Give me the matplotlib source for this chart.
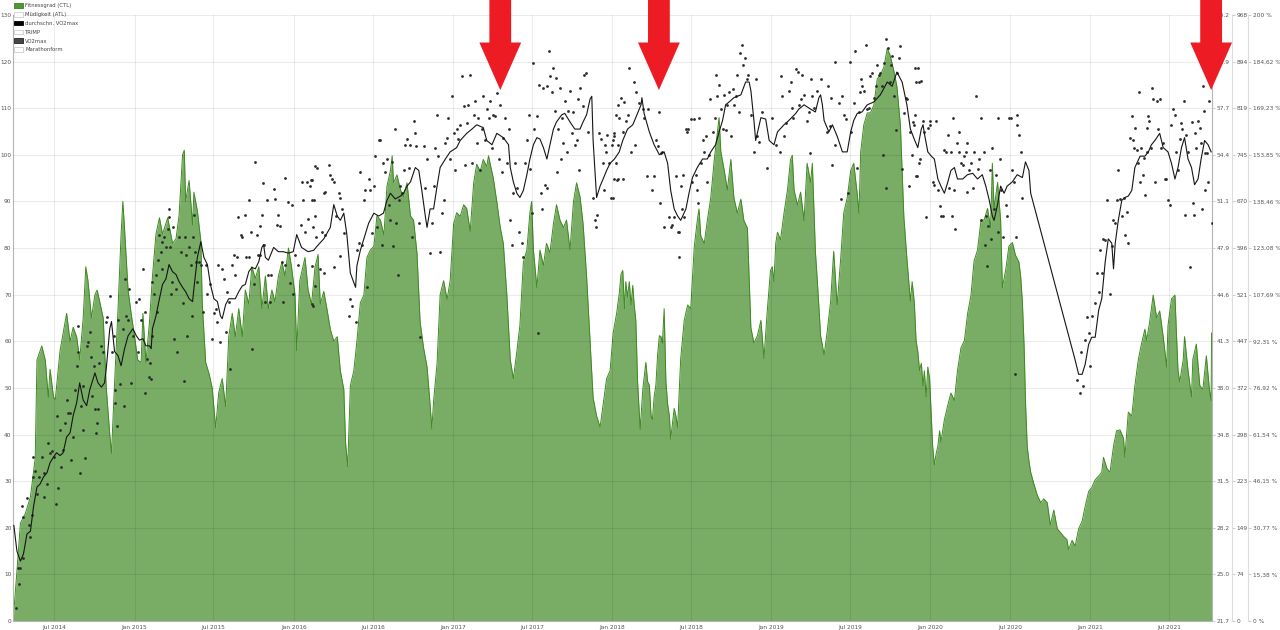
import numpy as np
import matplotlib
matplotlib.use("Agg")
import matplotlib.pyplot as plt
import matplotlib.dates as mdates
import matplotlib.patches as mpatches

# day 0 = 2014-03-28
start = np.datetime64("2014-03-28")

# Fitnessgrad (CTL), (day, value) on left axis
ctl = [
    (1, 1.0), (9, 10.7), (17, 21.0), (28, 23.0), (40, 26.6), (51, 35.0), (55, 56.0), (66, 59.0),
    (74, 56.0), (81, 48.0), (85, 54.0), (93, 48.0), (97, 47.5), (108, 58.0), (123, 66.0), (131, 60.0),
    (138, 63.0), (146, 61.0), (153, 56.0), (161, 65.0), (167, 76.0), (172, 73.0), (180, 65.0), (188, 70.0),
    (193, 71.0), (199, 68.5), (207, 65.0), (214, 50.0), (222, 40.0), (226, 36.0), (233, 51.0), (241, 67.0),
    (248, 83.0), (252, 90.0), (256, 84.0), (264, 71.0), (271, 66.0), (279, 61.0), (286, 56.0), (294, 55.5),
    (298, 66.0), (305, 55.5), (313, 64.0), (320, 74.0), (328, 83.0), (336, 86.5), (343, 83.0), (355, 86.5),
    (366, 81.0), (374, 82.0), (381, 87.0), (389, 100.0), (393, 101.0), (396, 90.0), (404, 94.5), (412, 85.0),
    (415, 92.0), (423, 88.0), (431, 81.5), (434, 68.5), (442, 55.5), (450, 53.0), (457, 50.0), (465, 41.4),
    (472, 49.0), (480, 52.0), (488, 46.0), (495, 61.0), (503, 66.0), (510, 61.0), (518, 67.0), (526, 61.0),
    (533, 71.0), (541, 68.0), (548, 76.0), (556, 73.5), (564, 76.0), (571, 67.0), (579, 74.0), (586, 67.0),
    (594, 71.0), (601, 68.5), (609, 74.0), (617, 77.0), (624, 74.0), (632, 80.0), (639, 76.0), (647, 70.0),
    (651, 58.0), (658, 73.0), (670, 78.0), (677, 71.0), (685, 68.0), (693, 76.0), (700, 78.6),
    (705, 68.0), (713, 70.7), (721, 66.6), (728, 62.6), (736, 60.0), (744, 61.0), (751, 53.7), (759, 49.7),
    (763, 38.3), (768, 33.1), (774, 50.5), (782, 53.7), (789, 60.0), (797, 68.3), (805, 69.9), (812, 78.0),
    (820, 79.6), (828, 80.4), (835, 86.9), (843, 86.0), (851, 82.8), (858, 93.3), (866, 96.6), (870, 99.8),
    (873, 94.0), (881, 95.7), (889, 92.5), (896, 91.0), (904, 94.0), (912, 86.9), (919, 86.0), (927, 78.8),
    (934, 64.2), (942, 58.6), (950, 54.5), (957, 46.4), (961, 41.2), (965, 47.2), (973, 55.3), (980, 70.0),
    (988, 73.0), (996, 69.0), (1003, 73.0), (1011, 85.2), (1018, 87.6), (1026, 86.8), (1034, 89.3), (1041, 88.5),
    (1049, 83.6), (1057, 94.0), (1064, 98.0), (1072, 96.5), (1079, 99.0), (1087, 97.5), (1091, 99.8), (1095, 98.0),
    (1102, 95.0), (1110, 90.0), (1118, 84.4), (1125, 81.0), (1133, 70.0), (1141, 56.0), (1148, 52.0), (1156, 57.8),
    (1163, 63.4), (1171, 77.0), (1179, 79.6), (1186, 87.6), (1190, 90.0), (1194, 79.6), (1202, 71.5), (1209, 79.6),
    (1217, 76.3), (1224, 81.0), (1232, 79.0), (1240, 85.2), (1247, 89.3), (1255, 86.0), (1263, 84.4), (1270, 86.0),
    (1278, 79.6), (1286, 90.0), (1293, 94.0), (1301, 91.0), (1308, 85.2), (1316, 74.0), (1324, 60.0), (1331, 47.9),
    (1339, 44.0), (1347, 41.6), (1354, 46.4), (1362, 52.0), (1370, 53.7),
    (1377, 61.8), (1385, 66.0), (1391, 70.3), (1395, 74.4), (1399, 75.2), (1403, 67.0), (1406, 72.8), (1410, 69.5),
    (1414, 72.8), (1418, 67.8), (1422, 72.0), (1425, 68.0), (1429, 64.5), (1433, 51.4), (1439, 41.1), (1445, 49.7),
    (1448, 52.2), (1452, 55.5), (1456, 51.4), (1460, 50.6), (1464, 44.0), (1467, 43.2), (1471, 48.1), (1475, 50.6),
    (1479, 57.1), (1483, 61.2), (1487, 61.0), (1490, 59.6), (1494, 67.0), (1498, 51.4), (1502, 46.5), (1506, 44.0),
    (1509, 39.0), (1513, 42.4), (1517, 45.6), (1521, 44.0), (1525, 41.5), (1528, 48.1), (1532, 56.3), (1540, 64.5),
    (1548, 67.8), (1555, 67.0), (1559, 73.6), (1563, 80.2), (1567, 83.4), (1570, 85.9), (1574, 88.4), (1578, 82.6),
    (1586, 81.0), (1593, 85.9), (1601, 90.8), (1609, 99.0), (1616, 104.8), (1620, 108.0), (1624, 100.7), (1632, 96.6),
    (1639, 92.5), (1647, 99.0), (1654, 90.8), (1662, 87.5), (1670, 90.5), (1677, 85.9), (1685, 84.3), (1693, 62.9),
    (1700, 59.6), (1708, 61.2), (1716, 64.5), (1723, 56.3), (1731, 67.0), (1738, 75.2), (1742, 76.0), (1746, 72.8),
    (1750, 81.0), (1754, 83.4), (1761, 81.8), (1769, 87.5), (1777, 92.5), (1784, 99.0), (1788, 99.9), (1792, 92.5),
    (1800, 89.2), (1807, 92.0), (1815, 85.9), (1822, 98.2), (1830, 94.1), (1834, 98.2), (1838, 87.5), (1841, 79.3),
    (1845, 73.6), (1853, 61.2), (1861, 57.1), (1868, 62.0), (1876, 68.6), (1883, 79.3), (1891, 67.8), (1899, 77.7),
    (1906, 87.5), (1914, 90.8), (1922, 96.6), (1929, 98.2), (1937, 91.6), (1941, 87.5), (1945, 100.7), (1952, 106.4),
    (1960, 109.0), (1967, 109.0), (1975, 110.6), (1983, 116.3), (1990, 117.1), (1998, 118.8), (2006, 122.9), (2013, 121.2),
    (2021, 118.0), (2028, 114.7), (2036, 106.4), (2044, 86.7), (2051, 77.7), (2059, 68.6), (2063, 72.8),
    (2068, 68.3), (2072, 60.2), (2076, 57.8), (2080, 53.7), (2084, 55.3), (2088, 50.5), (2091, 53.7), (2095, 48.1),
    (2099, 54.5), (2103, 52.0), (2107, 44.0), (2110, 37.5), (2114, 33.5), (2118, 35.9), (2122, 37.5), (2126, 40.8),
    (2129, 38.4), (2137, 43.2), (2145, 46.4), (2152, 48.9), (2160, 47.3), (2167, 53.7), (2175, 58.6), (2183, 60.2),
    (2190, 65.8), (2198, 69.9), (2205, 77.2), (2213, 79.6), (2221, 86.0), (2228, 86.0), (2236, 88.5), (2243, 84.4),
    (2247, 98.2), (2251, 88.5), (2259, 94.1), (2266, 86.0), (2270, 71.5), (2278, 75.5), (2285, 80.4), (2293, 81.2),
    (2300, 78.5), (2308, 77.0), (2312, 73.9), (2316, 68.3), (2320, 58.6), (2323, 47.2), (2327, 37.5), (2331, 34.3),
    (2335, 31.9), (2342, 29.5), (2350, 27.0), (2358, 25.4), (2365, 26.2), (2373, 25.4), (2380, 20.6), (2388, 23.8),
    (2396, 19.8), (2403, 19.0), (2411, 18.1), (2418, 17.5), (2422, 15.3), (2430, 17.3), (2437, 16.1), (2445, 19.8),
    (2453, 21.4), (2460, 24.6), (2468, 27.8), (2475, 28.6), (2483, 30.3), (2491, 31.1), (2498, 31.9), (2502, 35.1),
    (2510, 32.7), (2517, 31.9), (2525, 37.5), (2532, 40.8), (2540, 41.0), (2548, 39.2), (2551, 35.1), (2559, 44.8),
    (2567, 44.0), (2574, 50.5), (2582, 56.1), (2589, 59.4), (2597, 62.6), (2601, 60.2), (2608, 64.2), (2616, 69.9),
    (2624, 65.0), (2631, 66.5), (2639, 61.0), (2647, 54.5), (2650, 63.4), (2658, 69.1), (2666, 69.9), (2669, 62.6),
    (2673, 53.7), (2677, 51.3), (2685, 56.1), (2688, 61.0), (2696, 53.7), (2704, 48.1), (2707, 56.1), (2715, 59.4),
    (2723, 50.5), (2730, 49.7), (2738, 56.9), (2745, 49.7), (2749, 47.3), (2750, 61.8),
]

# durchschn. VO2max, (day, VO2max)
vo2_avg = [
    (2, 28.4), (9, 26.6), (17, 25.9), (24, 26.4), (32, 27.8), (40, 28.0), (47, 29.7), (55, 31.1),
    (62, 31.3), (70, 31.8), (78, 32.1), (85, 32.8), (93, 33.2), (100, 33.5), (108, 33.3), (115, 33.5),
    (123, 34.6), (131, 34.9), (138, 36.1), (146, 37.0), (153, 38.4), (161, 37.2), (169, 36.8), (176, 37.9),
    (184, 38.7), (188, 39.1), (195, 38.4), (203, 38.1), (210, 38.4), (214, 39.4), (222, 42.2), (226, 42.7),
    (233, 40.6), (241, 40.3), (248, 39.6), (256, 40.8), (264, 41.7), (275, 42.2), (283, 41.7), (290, 41.4),
    (298, 41.5), (305, 41.0), (313, 41.0), (317, 40.8), (320, 42.2), (328, 43.1), (336, 44.3), (343, 45.3),
    (351, 45.7), (358, 46.7), (366, 46.2), (374, 46.0), (381, 45.5), (389, 45.1), (396, 44.8), (404, 44.3),
    (412, 44.1), (415, 45.0), (423, 47.2), (431, 48.3), (438, 47.2), (446, 46.7), (453, 45.3), (461, 44.3),
    (469, 44.1), (476, 43.1), (480, 42.9), (488, 43.9), (495, 44.3), (503, 44.3), (510, 44.3), (518, 44.8),
    (526, 45.2), (533, 45.3), (541, 46.2), (548, 46.5), (556, 46.4), (564, 46.9), (571, 47.9), (575, 48.1),
    (579, 47.2), (586, 47.0), (598, 47.9), (609, 47.6), (620, 47.6), (632, 47.5), (643, 47.6), (651, 48.8),
    (662, 47.9), (677, 47.6), (690, 47.7), (698, 48.0),
    (713, 48.5), (728, 49.3), (736, 50.9), (744, 50.1), (751, 49.8), (759, 50.3), (766, 48.8), (774, 46.1),
    (786, 45.1), (789, 46.6), (797, 47.7), (805, 48.5), (816, 49.6), (828, 50.3), (839, 50.1), (850, 50.3),
    (858, 51.2), (866, 51.7), (877, 51.3), (889, 51.5), (896, 51.7), (904, 52.2), (912, 52.5), (923, 53.5),
    (931, 53.3), (938, 51.9), (946, 50.1), (950, 49.3), (957, 50.6), (965, 50.6), (973, 52.2), (980, 53.5),
    (992, 54.1), (1003, 54.6), (1018, 54.9), (1026, 55.4), (1041, 55.9), (1053, 56.2), (1064, 56.5), (1079, 56.3),
    (1087, 55.4), (1099, 55.1), (1110, 55.9), (1125, 55.6), (1137, 55.1), (1141, 53.5), (1148, 52.5), (1156, 51.7),
    (1163, 51.4), (1171, 51.9), (1179, 53.0), (1186, 54.1), (1194, 55.1), (1202, 55.6), (1209, 55.5), (1217, 54.9),
    (1225, 54.1), (1232, 55.1), (1240, 56.2), (1247, 56.7), (1259, 57.2), (1266, 57.3), (1278, 56.7), (1289, 56.2),
    (1301, 56.2), (1308, 56.7), (1316, 57.2), (1324, 58.3), (1328, 58.5), (1331, 55.4), (1339, 51.4), (1347, 52.2),
    (1354, 52.7), (1362, 53.3), (1370, 53.8),
    (1380, 54.1), (1391, 54.6), (1399, 55.4), (1410, 56.2), (1422, 56.5), (1433, 57.3), (1441, 57.9), (1443, 58.4),
    (1448, 57.3), (1460, 56.0), (1471, 55.1), (1483, 54.4), (1494, 54.6), (1502, 53.8), (1509, 51.9), (1517, 50.6),
    (1525, 50.1), (1532, 49.8), (1544, 50.6), (1551, 51.7), (1559, 52.8), (1570, 53.5), (1582, 54.1), (1593, 54.1),
    (1601, 54.6), (1612, 55.1), (1620, 56.0), (1628, 56.8), (1635, 57.9), (1643, 58.1), (1654, 58.4), (1670, 58.6),
    (1681, 59.5), (1689, 59.5), (1693, 58.9), (1700, 56.8), (1704, 55.4), (1716, 57.0), (1727, 56.9), (1735, 55.4),
    (1746, 55.1), (1754, 56.0), (1769, 56.5), (1780, 56.8), (1796, 57.3), (1803, 57.6), (1815, 57.9), (1830, 57.6),
    (1841, 57.4), (1849, 58.4), (1853, 58.6), (1857, 57.9), (1861, 56.8), (1872, 56.0), (1880, 56.5), (1891, 55.7),
    (1903, 54.6), (1914, 54.6), (1922, 56.0), (1929, 56.8), (1937, 57.3), (1948, 57.4), (1960, 57.9), (1975, 58.1),
    (1990, 58.6), (2006, 59.5), (2017, 59.2), (2028, 60.2), (2040, 59.5), (2051, 57.9), (2059, 56.2),
    (2069, 55.4), (2076, 54.9), (2084, 56.2), (2088, 56.5), (2091, 55.9), (2099, 54.6), (2107, 54.3), (2114, 54.1),
    (2122, 52.7), (2129, 52.2), (2137, 51.7), (2145, 52.5), (2152, 53.3), (2160, 53.5), (2167, 52.7), (2179, 52.7),
    (2190, 53.0), (2202, 53.1), (2213, 52.7), (2224, 53.0), (2232, 52.2), (2240, 51.2), (2247, 50.1), (2251, 49.8),
    (2259, 50.9), (2266, 52.2), (2274, 51.7), (2281, 52.2), (2293, 52.5), (2304, 53.0), (2316, 52.8), (2323, 53.9),
    (2331, 53.3), (2335, 51.7), (2431, 40.7), (2437, 40.0), (2445, 39.0), (2453, 39.0), (2460, 39.7), (2468, 41.1),
    (2475, 41.6), (2483, 41.6), (2491, 43.5), (2498, 44.3), (2506, 46.9), (2513, 48.5), (2521, 48.2), (2525, 46.4),
    (2529, 48.2), (2536, 49.8), (2544, 51.2), (2551, 51.4), (2559, 51.5), (2567, 51.9), (2574, 53.5), (2586, 54.3),
    (2597, 54.3), (2605, 54.6), (2612, 55.1), (2620, 55.4), (2631, 55.9), (2639, 54.9), (2650, 54.6), (2658, 53.8),
    (2666, 52.7), (2673, 53.5), (2681, 54.9), (2688, 55.6), (2696, 54.1), (2704, 53.5), (2711, 52.3), (2719, 52.7),
    (2726, 54.1), (2734, 55.4), (2742, 55.1), (2749, 54.6),
]

# VO2max single measurements, (day, VO2max)
vo2_daily = [
    (8, 22.6), (14, 24.3), (11, 25.4), (15, 25.4), (24, 26.1), (23, 29.0), (32, 30.3), (21, 29.8),
    (36, 28.4), (40, 27.6), (43, 29.1), (47, 31.8), (51, 32.2), (46, 33.2), (55, 30.6), (59, 31.8),
    (66, 33.2), (70, 32.1), (71, 30.4), (78, 31.3), (81, 34.2), (85, 33.5), (89, 33.6), (93, 33.2),
    (99, 29.9), (100, 36.1), (104, 31.0), (108, 35.1), (109, 32.5), (115, 33.7), (119, 35.6), (123, 37.2),
    (127, 36.3), (131, 36.3), (133, 33.0), (138, 34.6), (142, 37.9), (146, 39.6), (148, 42.4), (150, 40.6),
    (153, 32.1), (156, 36.8), (160, 35.1), (165, 33.1), (161, 38.2), (169, 41.0), (172, 41.3), (176, 42.0),
    (179, 40.2), (182, 37.5), (185, 39.6), (189, 36.6), (191, 34.9), (193, 35.6), (195, 36.6), (198, 39.8),
    (201, 41.0), (207, 40.6), (214, 42.7), (216, 43.0), (222, 44.5), (226, 40.6), (231, 41.7), (233, 37.9),
    (235, 37.0), (239, 35.4), (242, 42.8), (245, 38.3), (252, 42.2), (254, 36.8), (256, 45.7), (260, 43.1),
    (264, 42.8), (267, 45.0), (271, 38.4), (275, 41.7), (283, 44.1), (286, 40.6), (290, 44.3), (294, 42.8),
    (298, 46.4), (302, 43.4), (304, 37.7), (307, 40.1), (311, 38.8), (314, 39.8), (317, 38.7), (319, 41.7),
    (320, 45.5), (324, 44.6), (328, 46.0), (330, 43.4), (332, 47.0), (336, 48.8), (339, 47.6), (342, 46.4),
    (343, 48.3), (347, 48.6), (351, 47.9), (355, 49.2), (357, 50.0), (358, 50.6), (361, 47.9), (362, 44.6),
    (365, 45.5), (366, 49.3), (370, 41.5), (374, 45.0), (377, 40.6), (381, 48.6), (385, 47.6), (389, 44.0),
    (393, 38.5), (394, 48.6), (396, 47.4), (400, 41.7), (404, 47.9), (408, 46.7), (410, 43.1), (412, 48.6),
    (415, 50.2), (418, 47.6), (419, 46.9), (423, 45.5), (427, 46.9), (431, 46.7), (437, 43.4), (442, 46.7),
    (446, 44.6), (453, 45.3), (457, 41.5), (461, 43.3), (465, 43.6), (469, 42.7), (471, 46.7), (474, 41.3),
    (480, 46.4), (484, 45.7), (488, 42.0), (491, 44.8), (495, 44.1), (499, 39.4), (503, 46.7), (507, 47.4),
    (510, 46.0), (514, 47.2), (516, 50.0), (522, 48.8), (526, 48.6), (533, 50.2), (535, 47.2), (541, 47.2),
    (542, 51.2), (545, 49.0), (548, 40.8), (552, 45.3), (556, 53.9), (560, 48.8), (562, 47.4), (566, 49.4),
    (567, 47.4), (571, 50.2), (573, 52.4), (575, 48.1), (579, 44.1), (582, 51.2), (586, 46.0), (590, 44.1),
    (592, 46.0), (598, 52.0), (601, 51.3), (605, 49.5), (609, 50.2), (613, 49.4), (617, 46.9), (620, 44.1),
    (623, 52.8), (624, 46.7), (632, 51.1), (636, 45.4), (639, 50.9), (643, 44.6), (647, 47.4), (655, 46.7),
    (661, 49.5), (662, 52.5), (666, 51.2), (670, 49.0), (674, 52.5), (677, 49.9), (681, 52.2), (683, 52.6),
    (685, 43.9), (686, 51.2), (689, 49.3), (693, 53.6), (696, 48.6),
    (686, 52.6), (690, 51.2), (694, 50.1), (698, 53.5), (713, 51.7), (717, 51.8), (725, 53.7), (728, 53.0),
    (732, 52.7), (736, 52.5), (740, 50.1), (747, 51.7), (751, 51.4), (755, 50.6), (759, 48.9), (709, 49.0),
    (717, 48.8), (705, 46.4), (713, 46.1), (736, 46.5), (751, 47.3), (689, 43.8), (694, 45.2), (686, 46.6),
    (770, 43.1), (774, 44.3), (778, 43.8), (786, 42.7), (789, 47.7), (793, 48.2), (797, 53.2), (801, 48.1),
    (805, 51.2), (808, 51.9), (812, 45.1), (816, 52.7), (820, 51.9), (824, 48.9), (828, 52.2), (831, 54.3),
    (835, 49.3), (839, 55.4), (843, 55.4), (847, 48.1), (850, 53.8), (854, 53.2), (858, 54.1), (862, 50.9),
    (866, 49.8), (870, 53.9), (873, 48.0), (877, 56.2), (879, 49.6), (883, 46.0), (885, 51.2), (889, 52.2),
    (892, 51.7), (896, 53.3), (900, 55.1), (904, 55.5), (908, 53.5), (912, 55.1), (915, 48.6), (919, 56.8),
    (923, 55.9), (925, 55.0), (931, 49.6), (934, 41.6), (942, 55.0), (946, 52.1), (950, 54.1), (957, 47.5),
    (961, 49.6), (965, 52.2), (969, 54.9), (973, 57.2), (976, 54.3), (980, 47.6), (984, 50.3), (988, 51.2),
    (992, 55.2), (995, 55.6), (999, 57.0), (1003, 54.1), (1007, 58.5), (1011, 55.9), (1015, 53.3), (1018, 56.2),
    (1022, 55.5), (1026, 56.5), (1030, 59.9), (1034, 57.8), (1037, 53.7), (1041, 56.6), (1045, 57.9), (1049, 60.0),
    (1053, 53.8), (1057, 57.2), (1060, 58.2), (1064, 55.2), (1068, 57.0), (1072, 53.3), (1076, 56.2), (1079, 58.5),
    (1083, 55.4), (1087, 57.6), (1091, 57.0), (1095, 58.2), (1099, 54.9), (1102, 57.2), (1106, 57.1), (1110, 58.7),
    (1114, 54.1), (1118, 57.9), (1121, 53.2), (1125, 55.6), (1129, 57.0), (1133, 53.8), (1139, 56.2), (1141, 49.8),
    (1144, 48.1), (1148, 51.7), (1152, 53.8), (1156, 52.1), (1160, 49.0), (1167, 48.2), (1171, 47.2), (1175, 53.8),
    (1179, 55.4), (1183, 57.2), (1186, 53.4), (1190, 50.3), (1192, 60.8), (1195, 56.2), (1202, 57.1), (1205, 41.9),
    (1208, 59.3), (1211, 51.7), (1214, 50.6), (1217, 59.1), (1221, 52.3), (1225, 52.1), (1226, 59.2), (1229, 61.7),
    (1232, 59.9), (1236, 58.8), (1240, 60.5), (1244, 57.5), (1247, 59.8), (1249, 53.2), (1251, 56.2), (1254, 59.1),
    (1257, 54.1), (1260, 57.0), (1263, 55.2), (1267, 58.2), (1270, 54.6), (1274, 57.5), (1278, 58.9), (1282, 55.9),
    (1286, 57.4), (1290, 55.1), (1293, 55.4), (1297, 58.3), (1299, 53.3), (1302, 59.1), (1307, 57.8), (1310, 60.0),
    (1315, 60.1), (1320, 56.0), (1331, 51.4), (1335, 49.8), (1337, 49.3), (1341, 50.2), (1344, 55.9), (1348, 55.5),
    (1353, 53.8), (1356, 51.9), (1358, 55.1), (1360, 54.6), (1363, 55.8), (1368, 53.8), (1371, 51.4), (1374, 55.1),
    (1379, 55.9), (1383, 57.2), (1386, 52.6), (1389, 57.9),
    (1376, 55.4), (1380, 55.7), (1383, 53.8), (1387, 55.1), (1391, 57.0), (1395, 58.4), (1399, 56.0), (1403, 58.1),
    (1406, 56.8), (1410, 57.2), (1414, 60.5), (1418, 54.6), (1378, 52.7), (1387, 52.7), (1399, 52.7), (1376, 51.4),
    (1425, 59.5), (1429, 58.8), (1427, 55.1), (1437, 58.0), (1445, 57.6), (1448, 57.0), (1454, 52.9), (1456, 57.6),
    (1467, 51.9), (1471, 52.9), (1475, 55.4), (1479, 55.0), (1483, 57.4), (1485, 51.0), (1487, 54.5), (1490, 54.6),
    (1494, 49.3), (1506, 50.0), (1509, 49.3), (1513, 49.5), (1517, 50.0), (1521, 52.9), (1525, 49.0), (1528, 49.0),
    (1528, 47.2), (1532, 52.2), (1534, 50.6), (1537, 53.0), (1540, 50.0), (1543, 56.2), (1546, 56.0), (1549, 56.2),
    (1555, 56.9), (1559, 52.5), (1563, 56.9), (1567, 53.0), (1570, 51.9), (1572, 51.0), (1574, 57.0), (1578, 53.8),
    (1582, 55.4), (1586, 54.6), (1590, 55.7), (1593, 52.5), (1597, 54.4), (1599, 58.3), (1605, 56.0), (1610, 57.0),
    (1614, 60.0), (1616, 58.5), (1620, 59.3), (1624, 57.6), (1628, 56.2), (1632, 58.6), (1635, 56.1), (1639, 57.9),
    (1643, 58.8), (1647, 55.7), (1651, 59.0), (1654, 57.9), (1658, 58.5), (1661, 60.0), (1666, 57.4), (1669, 61.5),
    (1672, 62.1), (1676, 60.7), (1680, 61.2), (1683, 59.7), (1687, 60.0), (1693, 57.2), (1700, 54.6), (1704, 59.7),
    (1708, 55.7), (1712, 55.3), (1719, 57.4), (1731, 53.5), (1741, 57.0), (1750, 55.1), (1760, 54.6), (1763, 59.9),
    (1765, 58.5), (1769, 55.7), (1773, 56.6), (1780, 58.9), (1784, 59.5), (1787, 57.7), (1790, 57.0), (1796, 60.4),
    (1800, 60.2), (1803, 57.9), (1807, 58.3), (1811, 60.0), (1815, 58.6), (1822, 56.8), (1826, 57.4), (1829, 54.5),
    (1830, 59.7), (1834, 58.5), (1838, 57.7), (1845, 58.9), (1853, 59.7), (1867, 56.0), (1871, 59.2), (1874, 56.4),
    (1877, 58.4), (1880, 53.7), (1885, 55.1), (1887, 60.9), (1895, 58.0), (1899, 51.3), (1901, 58.5), (1906, 57.2),
    (1912, 56.9), (1916, 51.7), (1920, 60.9), (1923, 56.0), (1929, 58.0), (1931, 61.7), (1937, 53.5), (1941, 57.4),
    (1943, 58.8), (1945, 59.7), (1948, 59.2), (1952, 58.9), (1956, 62.1), (1960, 57.6), (1964, 57.7), (1967, 59.9),
    (1971, 60.1), (1975, 58.4), (1979, 59.2), (1983, 60.7), (1987, 60.0), (1990, 60.1), (1994, 59.2), (1996, 54.4),
    (1998, 60.8), (2002, 62.5), (2004, 52.1), (2007, 61.9), (2012, 59.5), (2015, 60.7), (2017, 61.3), (2021, 58.5),
    (2025, 56.1), (2029, 60.1), (2032, 61.2), (2036, 62.0), (2040, 53.4), (2044, 57.3), (2048, 58.4), (2051, 58.3),
    (2055, 52.2), (2059, 56.0), (2063, 54.4), (2067, 56.5), (2070, 60.5), (2073, 59.5), (2074, 52.9), (2078, 53.8),
    (2080, 54.1),
    (2065, 56.7), (2069, 57.2), (2072, 52.9), (2076, 60.5), (2078, 59.5), (2084, 59.6), (2088, 56.8), (2091, 56.0),
    (2095, 50.0), (2099, 56.3), (2103, 56.8), (2105, 56.5), (2110, 52.5), (2114, 52.3), (2118, 56.8), (2122, 51.9),
    (2126, 50.8), (2129, 50.1), (2133, 50.1), (2137, 54.7), (2141, 54.6), (2145, 55.8), (2148, 52.1), (2152, 54.6),
    (2154, 50.1), (2156, 57.0), (2160, 51.9), (2162, 49.2), (2167, 55.2), (2170, 56.0), (2171, 54.6), (2175, 53.8),
    (2179, 53.7), (2183, 54.3), (2186, 54.6), (2189, 55.2), (2190, 51.8), (2194, 53.3), (2198, 53.8), (2202, 52.1),
    (2205, 54.6), (2209, 58.5), (2213, 53.4), (2217, 54.1), (2221, 57.0), (2222, 49.8), (2227, 54.6), (2230, 48.1),
    (2232, 50.1), (2234, 46.6), (2237, 49.4), (2242, 53.3), (2243, 48.5), (2247, 54.9), (2251, 50.6), (2255, 53.0),
    (2259, 49.0), (2260, 57.0), (2265, 54.1), (2268, 51.9), (2272, 48.6), (2278, 50.9), (2281, 50.1), (2285, 57.0),
    (2289, 57.0), (2293, 53.3), (2297, 52.5), (2299, 39.0), (2301, 48.6), (2303, 56.5), (2304, 57.2), (2308, 55.8),
    (2312, 54.6), (2315, 51.4),
    (2441, 38.6), (2447, 37.7), (2450, 40.6), (2455, 38.2), (2460, 41.4), (2464, 43.0), (2468, 41.9), (2472, 39.6),
    (2475, 43.1), (2483, 44.0), (2487, 46.1), (2491, 44.8), (2494, 47.7), (2498, 46.1), (2502, 48.5), (2506, 48.4),
    (2510, 51.2), (2517, 44.6), (2521, 48.0), (2525, 49.8), (2529, 49.6), (2532, 51.2), (2536, 53.3), (2539, 51.3),
    (2544, 50.1), (2548, 51.4), (2551, 48.8), (2555, 50.4), (2559, 48.2), (2563, 55.6), (2567, 57.1), (2569, 55.4),
    (2572, 54.9), (2574, 56.3), (2578, 54.7), (2582, 53.8), (2584, 58.8), (2586, 52.5), (2588, 54.9), (2592, 53.0),
    (2595, 54.2), (2598, 51.6), (2601, 56.3), (2602, 54.6), (2605, 57.1), (2607, 56.8), (2610, 54.9), (2613, 59.1),
    (2616, 58.3), (2620, 52.5), (2624, 58.2), (2627, 56.2), (2631, 58.3), (2635, 54.9), (2639, 55.2), (2643, 52.7),
    (2646, 52.7), (2650, 51.2), (2654, 50.9), (2658, 56.5), (2662, 57.6), (2666, 57.2), (2669, 54.6), (2673, 53.3),
    (2677, 55.5), (2681, 56.6), (2683, 56.2), (2686, 58.2), (2689, 50.2), (2692, 55.8), (2696, 54.6), (2700, 46.5),
    (2704, 56.7), (2707, 51.0), (2710, 50.2), (2713, 55.9), (2715, 54.9), (2719, 56.8), (2723, 56.3), (2726, 55.2),
    (2729, 50.6), (2730, 59.2), (2732, 57.5), (2734, 51.9), (2736, 54.5), (2739, 54.5), (2742, 52.5), (2745, 58.2),
    (2749, 60.1), (2751, 49.6),
]

# red marker arrows (days), tip value on left axis
arrow_days = [1118, 1482, 2749]
arrow_tip = 113.9

legend_labels = ["Fitnessgrad (CTL)", "Müdigkeit (ATL)", "durchschn. VO2max",
                 "TRIMP", "VO2max", "Marathonform"]

n_days = 2751


def split(points):
    d = np.array([p[0] for p in points], dtype="int64")
    v = np.array([p[1] for p in points])
    return start + d.astype("timedelta64[D]"), v


ctl_x, ctl_y = split(ctl)
avg_x, avg_y = split(vo2_avg)
dly_x, dly_y = split(vo2_daily)

W, H = 1280, 630
fig = plt.figure(figsize=(W / 100, H / 100), dpi=100)
L, R, B, T = 13, 1212, 621, 15
ax = fig.add_axes([L / W, (H - B) / H, (R - L) / W, (B - T) / H])

ax.fill_between(ctl_x, 0, ctl_y, color="#79ad66", lw=0, zorder=1)
ax.plot(ctl_x, ctl_y, color="#3f8a22", lw=0.7, zorder=1.5)

ax.set_ylim(0, 130)
ax.set_yticks(np.arange(0, 131, 10))
ax.set_xlim(start, start + np.timedelta64(n_days, "D"))
ax.xaxis.set_major_locator(mdates.MonthLocator(bymonth=[1, 7]))
ax.xaxis.set_major_formatter(mdates.DateFormatter("%b %Y"))
ax.grid(True, color="black", alpha=0.08, lw=0.8)
ax.set_axisbelow(False)
ax.tick_params(axis="both", labelsize=4.2, colors="#555555", length=0)
ax.tick_params(axis="x", pad=3)
ax.tick_params(axis="y", pad=1)
ax.spines["top"].set_visible(False)
for s in ["left", "right", "bottom"]:
    ax.spines[s].set_color("#b5b5b5")
    ax.spines[s].set_linewidth(0.8)

frac1 = (1232 - L) / (R - L)
frac2 = (1248 - L) / (R - L)
tick_kw = dict(labelsize=4.2, labelcolor="#555555", color="#cccccc", length=2.5, pad=1)

# VO2max axis (on the plot's right edge)
ax_v = ax.twinx()
ax_v.set_ylim(21.7, 64.2)
ax_v.set_yticks(np.linspace(21.7, 64.2, 14))
ax_v.yaxis.set_major_formatter(plt.FuncFormatter(lambda v, p: f"{v:.1f}"))
for s in ["top", "bottom", "left", "right"]:
    ax_v.spines[s].set_visible(False)
ax_v.tick_params(axis="y", **tick_kw)

ax_v.scatter(dly_x, dly_y, s=4, color="#2b2b2b", lw=0, zorder=3)
ax_v.plot(avg_x, avg_y, color="#151515", lw=0.8, zorder=4)

# TRIMP axis
ax_t = ax.twinx()
ax_t.set_ylim(0, 968)
ax_t.set_yticks(np.linspace(0, 968, 14))
ax_t.yaxis.set_major_formatter(plt.FuncFormatter(lambda v, p: f"{v:.0f}"))
for s in ["top", "bottom", "left"]:
    ax_t.spines[s].set_visible(False)
ax_t.spines["right"].set_position(("axes", frac1))
ax_t.spines["right"].set_color("#dddddd")
ax_t.tick_params(axis="y", **tick_kw)


# Marathonform axis (percent)
def pct(v, p):
    if abs(v - round(v)) < 1e-6:
        return f"{v:.0f} %"
    return f"{v:.2f} %".replace(".", ",")


ax_p = ax.twinx()
ax_p.set_ylim(0, 200)
ax_p.set_yticks(np.linspace(0, 200, 14))
ax_p.yaxis.set_major_formatter(plt.FuncFormatter(pct))
for s in ["top", "bottom", "left"]:
    ax_p.spines[s].set_visible(False)
ax_p.spines["right"].set_position(("axes", frac2))
ax_p.spines["right"].set_color("#dddddd")
ax_p.tick_params(axis="y", **tick_kw)

# red arrows
for d in arrow_days:
    xd = mdates.date2num(start + np.timedelta64(d, "D"))
    arr = mpatches.FancyArrow(xd, 134, 0, arrow_tip - 134, width=50, head_width=96,
                              head_length=10.2, length_includes_head=True,
                              color="#ed1c24", lw=0, transform=ax.transData,
                              clip_on=False, zorder=10)
    ax_p.add_artist(arr)

# legend
handles = [
    mpatches.Patch(facecolor="#4f9a2f", edgecolor="#3d7f22", lw=0.6),
    mpatches.Patch(facecolor="white", edgecolor="#cccccc", lw=0.6),
    mpatches.Patch(facecolor="black", edgecolor="black", lw=0.6),
    mpatches.Patch(facecolor="white", edgecolor="#cccccc", lw=0.6),
    mpatches.Patch(facecolor="#474747", edgecolor="#222222", lw=0.6),
    mpatches.Patch(facecolor="white", edgecolor="#cccccc", lw=0.6),
]
leg = fig.legend(handles, legend_labels, loc="upper left", bbox_to_anchor=(14 / W, 1 - 3 / H),
                 frameon=False, fontsize=3.8, handlelength=1.7, handleheight=1.0,
                 handletextpad=0.4, labelspacing=0.7, borderpad=0, borderaxespad=0)
for t in leg.get_texts():
    t.set_color("#444444")

fig.savefig("out.png", dpi=100)
